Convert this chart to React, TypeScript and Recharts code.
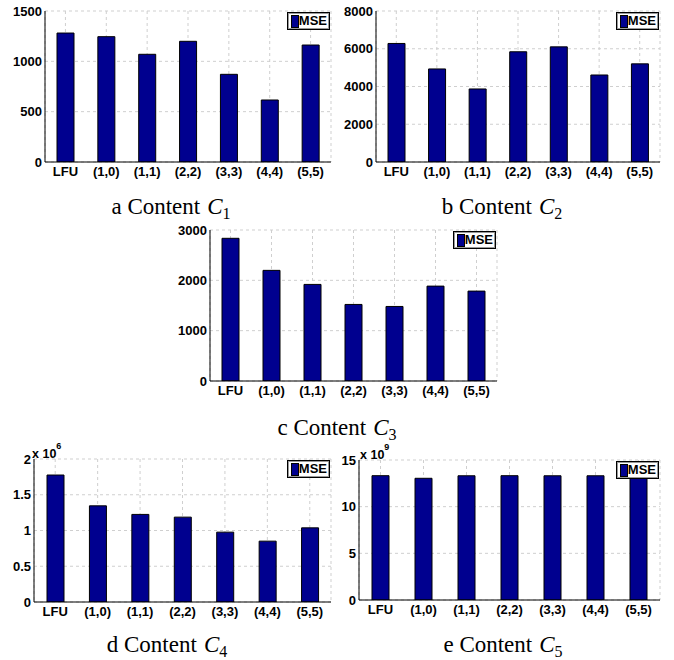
import React from 'react';
import { BarChart, Bar, XAxis, YAxis, CartesianGrid, Legend } from 'recharts';

const categories = ['LFU', '(1,0)', '(1,1)', '(2,2)', '(3,3)', '(4,4)', '(5,5)'];
const mseC1 = [1281, 1245, 1070, 1199, 871, 616, 1162];
const mseC2 = [6280, 4930, 3870, 5840, 6100, 4610, 5200];
const mseC3 = [2835, 2198, 1919, 1521, 1481, 1885, 1786];
const mseC4 = [1776000, 1345000, 1225000, 1187000, 977000, 851000, 1037000];
const mseC5 = [13.32e9, 13.04e9, 13.31e9, 13.32e9, 13.31e9, 13.31e9, 13.3e9];

const ticksC1 = [0, 500, 1000, 1500];
const ticksC2 = [0, 2000, 4000, 6000, 8000];
const ticksC3 = [0, 1000, 2000, 3000];
const ticksC4 = [0, 0.5e6, 1e6, 1.5e6, 2e6];
const ticksC5 = [0, 5e9, 10e9, 15e9];

const BAR_FILL = '#00008f';
const SANS = 'Liberation Sans, Arial, Helvetica, sans-serif';
const SERIF = 'Liberation Serif, Times New Roman, serif';

const toRows = (vals: number[]) => categories.map((name, i) => ({ name, mse: vals[i] }));

const LegendBox = () => (
  <div
    style={{
      border: '1px solid #000',
      boxShadow: 'inset 0 0 0 1px #999',
      background: '#fff',
      display: 'flex',
      alignItems: 'center',
      height: 16,
      padding: '0 2px 0 3px',
      fontFamily: SANS,
      fontWeight: 700,
      fontSize: 13,
      lineHeight: '16px',
      color: '#000',
    }}
  >
    <span
      style={{
        display: 'inline-block',
        width: 6,
        height: 11,
        background: BAR_FILL,
        border: '1px solid #000',
        boxSizing: 'content-box',
      }}
    />
    <span>MSE</span>
  </div>
);

type PanelProps = {
  values: number[];
  ticks: number[];
  fmt?: (v: number) => string;
  L: number;
  R: number;
  T: number;
  B: number;
};

const Panel = ({ values, ticks, fmt, L, R, T, B }: PanelProps) => {
  const w = R - L + 60;
  const h = B - T + 40;
  const tickStyle = { fill: '#000', fontSize: 13, fontWeight: 'bold', style: { fontFamily: SANS } };
  return (
    <div style={{ position: 'absolute', left: L - 50, top: T - 10, width: w, height: h }}>
      <BarChart
        width={w}
        height={h}
        data={toRows(values)}
        margin={{ top: 10, right: 10, bottom: 0, left: 0 }}
        barCategoryGap={0}
      >
        <CartesianGrid stroke="#cfcfcf" strokeDasharray="3 3" />
        <XAxis
          dataKey="name"
          interval={0}
          height={30}
          tickLine={false}
          tickSize={3}
          tickMargin={2}
          axisLine={{ stroke: '#000', strokeWidth: 1 }}
          tick={tickStyle}
        />
        <XAxis
          xAxisId="top"
          dataKey="name"
          orientation="top"
          height={0}
          tick={false}
          tickLine={false}
          axisLine={{ stroke: '#000', strokeWidth: 1 }}
        />
        <YAxis
          width={50}
          type="number"
          domain={[ticks[0], ticks[ticks.length - 1]]}
          ticks={ticks}
          interval={0}
          tickFormatter={fmt}
          tickLine={false}
          tickSize={1}
          tickMargin={2}
          axisLine={{ stroke: '#000', strokeWidth: 1 }}
          tick={tickStyle}
          allowDataOverflow
        />
        <YAxis
          yAxisId="right"
          orientation="right"
          width={0}
          tick={false}
          tickLine={false}
          axisLine={{ stroke: '#000', strokeWidth: 1 }}
        />
        <Legend
          layout="horizontal"
          verticalAlign="middle"
          align="center"
          content={() => <LegendBox />}
          wrapperStyle={{ top: 11, right: 11, left: 'auto', width: 'auto', height: 'auto' }}
        />
        <Bar
          dataKey="mse"
          name="MSE"
          fill={BAR_FILL}
          stroke="#000"
          strokeWidth={1}
          barSize={17}
          isAnimationActive={false}
        />
      </BarChart>
    </div>
  );
};

const Caption = ({ x, y, letter, idx }: { x: number; y: number; letter: string; idx: string }) => (
  <text x={x} y={y} textAnchor="middle" fontSize={23} fill="#000" style={{ fontFamily: SERIF }}>
    {letter} Content
    <tspan dx={7} fontStyle="italic">C</tspan>
    <tspan dy={5} fontSize={16}>{idx}</tspan>
  </text>
);

const Exponent = ({ x, y, exp }: { x: number; y: number; exp: string }) => (
  <text x={x} y={y} fontWeight="bold" fontSize={12.5} fill="#000" style={{ fontFamily: SANS }}>
    x 10
    <tspan dy={-9.5} fontSize={9}>{exp}</tspan>
  </text>
);

export default function App() {
  return (
    <div
      style={{
        position: 'absolute',
        left: 0,
        top: 0,
        width: 674,
        height: 660,
        background: '#fff',
        overflow: 'hidden',
      }}
    >
      <Panel values={mseC1} ticks={ticksC1} L={45} R={331} T={11} B={162} />
      <Panel values={mseC2} ticks={ticksC2} L={376} R={660} T={11} B={162} />
      <Panel values={mseC3} ticks={ticksC3} L={210} R={497} T={230} B={381} />
      <Panel values={mseC4} ticks={ticksC4} fmt={(v) => String(v / 1e6)} L={34} R={331} T={459} B={602} />
      <Panel values={mseC5} ticks={ticksC5} fmt={(v) => String(v / 1e9)} L={359} R={660} T={460} B={600} />
      <svg
        width={674}
        height={660}
        style={{ position: 'absolute', left: 0, top: 0, pointerEvents: 'none' }}
      >
        <Caption x={171} y={214} letter="a" idx="1" />
        <Caption x={502} y={214} letter="b" idx="2" />
        <Caption x={337} y={435} letter="c" idx="3" />
        <Caption x={167} y={652} letter="d" idx="4" />
        <Caption x={503} y={652} letter="e" idx="5" />
        <Exponent x={32} y={458} exp="6" />
        <Exponent x={360} y={459} exp="9" />
      </svg>
    </div>
  );
}
